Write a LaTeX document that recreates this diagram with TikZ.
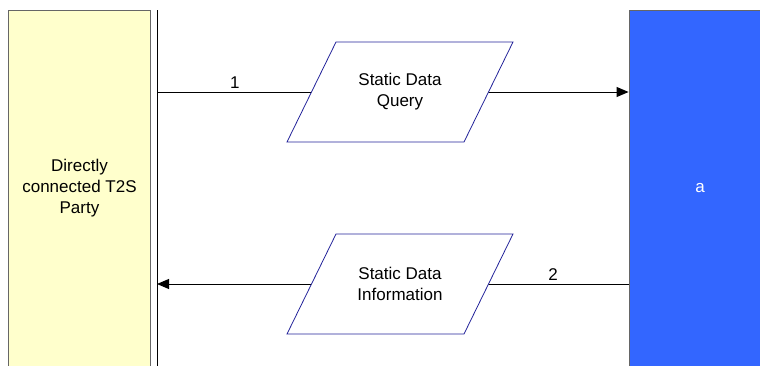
\documentclass[tikz,border=0pt]{standalone}
\usepackage{fontspec}
\setmainfont{Liberation Sans}
\usetikzlibrary{positioning, arrows.meta, shapes.geometric, calc, backgrounds}
\definecolor{partyyellow}{HTML}{FFFFCC}
\definecolor{sysblue}{HTML}{3366FF}
\definecolor{flowborder}{HTML}{23239A}

\begin{document}
\begin{tikzpicture}[x=1pt, y=-1pt,
    font=\fontsize{17}{21}\selectfont,
    actor/.style={draw=black!60, line width=0.9pt, minimum width=142pt,
        minimum height=356pt, align=center, inner sep=0pt},
    flow/.style={align=center, inner sep=0pt},
    flowbox/.style={draw=flowborder, fill=white, line width=0.8pt},
    msg/.style={line width=1pt}]

    \useasboundingbox (0,0) rectangle (760,365);

    \node[actor, fill=partyyellow] (party) at (79.5,188) {Directly\\connected T2S\\Party};

    \node[actor, fill=sysblue, text=white] (sys) at (700,188) {a};

    \coordinate (bartop) at (157,10);
    \coordinate (barbot) at (157,366);
    \draw[line width=1pt] (bartop) -- (barbot);

    \node[flow] (query) at (400,92) {Static Data\\Query};

    \node[flow] (info) at (400,284) {Static Data\\Information};

    % messages run behind the data boxes
    \begin{scope}[on background layer]
        \draw[msg] (query.center -| bartop) -- node[above, pos=0.32] {1} (query.center);
        \draw[msg, -{Triangle[length=12pt, width=10pt]}] (query.center) -- (query.center -| sys.west);

        \draw[msg] (info.center -| sys.west) -- node[above, pos=0.33] {2} (info.center);
        \draw[msg, -{Triangle[length=12pt, width=10pt]}] (info.center) -- (info.center -| bartop);

        \foreach \flowname in {query, info}
            \draw[flowbox] ($(\flowname.center)+(-113,50)$) -- ++(177,0) -- ++(49,-100) -- ++(-177,0) -- cycle;
    \end{scope}

\end{tikzpicture}
\end{document}
